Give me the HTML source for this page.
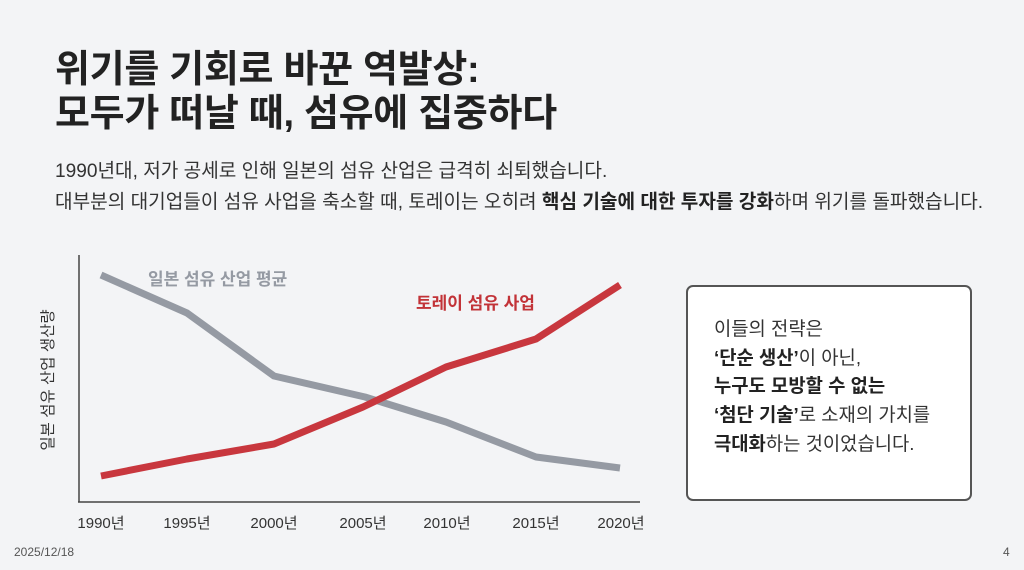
<!DOCTYPE html>
<html><head><meta charset="utf-8"><style>
body{margin:0;width:1024px;height:570px;background:#f3f4f6;font-family:"Liberation Sans","Noto Sans CJK KR",sans-serif;color:#222;position:relative;overflow:hidden}
.t{position:absolute;left:55px;top:48px;font-size:38px;font-weight:bold;line-height:44px;color:#222;letter-spacing:-0.3px}
.s{position:absolute;left:55px;top:156px;font-size:19.1px;line-height:31px;color:#333}
.box{position:absolute;left:686px;top:285px;width:286px;height:216px;border:2px solid #555;border-radius:7px;background:#fff;box-sizing:border-box}
.bt{position:absolute;left:714px;top:315px;font-size:18.8px;line-height:28.7px;color:#333}
b{color:#222}
.f{position:absolute;top:545px;font-size:12px;color:#555}
</style></head><body>
<div class="t">위기를 기회로 바꾼 역발상:<br>모두가 떠날 때, 섬유에 집중하다</div>
<div class="s">1990년대, 저가 공세로 인해 일본의 섬유 산업은 급격히 쇠퇴했습니다.<br>대부분의 대기업들이 섬유 사업을 축소할 때, 토레이는 오히려 <b>핵심 기술에 대한 투자를 강화</b>하며 위기를 돌파했습니다.</div>
<svg style="position:absolute;left:0;top:0" width="1024" height="570">
<line x1="79" y1="255" x2="79" y2="502" stroke="#444" stroke-width="1.5"/>
<line x1="78" y1="502" x2="640" y2="502" stroke="#444" stroke-width="1.5"/>
<polyline points="101,275 187,313 274,376 365,397 446,422 536,457 620,468" fill="none" stroke="#959aa3" stroke-width="7" stroke-linejoin="round"/>
<polyline points="101,476 187,459 274,444 363,407 446,367 536,339 620,285" fill="none" stroke="#c8373e" stroke-width="7" stroke-linejoin="round"/>
<text x="148" y="285" font-size="17" font-weight="bold" fill="#959aa3">일본 섬유 산업 평균</text>
<text x="416" y="309" font-size="17" font-weight="bold" fill="#c23338">토레이 섬유 사업</text>
<text transform="translate(53,380) rotate(-90)" font-size="15.5" fill="#333" text-anchor="middle">일본 섬유 산업 생산량</text>
<g font-size="15" fill="#333" text-anchor="middle">
<text x="101" y="528">1990년</text><text x="187" y="528">1995년</text><text x="274" y="528">2000년</text><text x="363" y="528">2005년</text><text x="447" y="528">2010년</text><text x="536" y="528">2015년</text><text x="621" y="528">2020년</text>
</g>
</svg>
<div class="box"></div>
<div class="bt">이들의 전략은<br><b>‘단순 생산’</b>이 아닌,<br><b>누구도 모방할 수 없는</b><br><b>‘첨단 기술’</b>로 소재의 가치를<br><b>극대화</b>하는 것이었습니다.</div>
<div class="f" style="left:14px">2025/12/18</div>
<div class="f" style="left:1003px">4</div>
</body></html>
